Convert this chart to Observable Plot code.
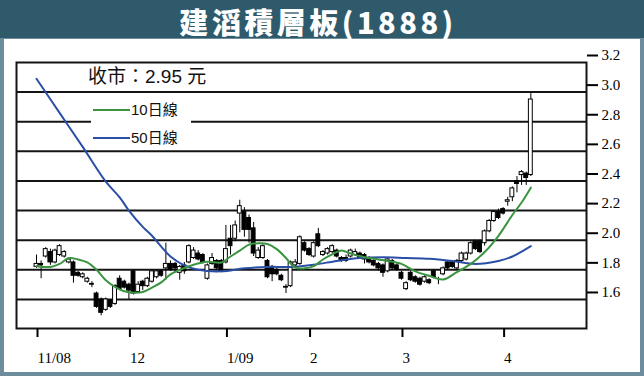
<!DOCTYPE html>
<html>
<head>
<meta charset="utf-8">
<script src="https://cdn.jsdelivr.net/npm/d3@7"></script>
<script src="https://cdn.jsdelivr.net/npm/@observablehq/plot@0.6"></script>
<style>
  html, body { margin: 0; padding: 0; background: #fff; }
  #wrap { position: relative; width: 644px; height: 376px; background: #6d8c9c; overflow: hidden; }
  #title { position: absolute; left: 0; top: 0; width: 644px; height: 38px; background: #2f5a6b; }
  #ttext { position: absolute; left: 0; top: 0; width: 636px; text-align: center; color: #fff;
    font-family: "Noto Sans CJK TC", sans-serif; font-weight: 900; font-size: 29px; line-height: normal;
    letter-spacing: 3.5px; white-space: nowrap; }
  #panel { position: absolute; left: 4px; top: 39px; width: 636px; height: 333px; background: #fff; }
  #chart { position: absolute; left: 0; top: 38px; }
  #close { position: absolute; left: 88px; top: 65px; font-family: "Liberation Sans", "Noto Sans CJK TC", sans-serif;
    font-size: 19px; line-height: 24px; color: #111; white-space: nowrap; }
  #legend { position: absolute; left: 91px; top: 98px; width: 100px; height: 48px; background: #fff; }
  .item { position: absolute; left: 2px; height: 20px; font-family: "Liberation Sans", "Noto Sans CJK TC", sans-serif;
    font-size: 15px; line-height: 20px; color: #111; white-space: nowrap; }
  .item i { display: inline-block; width: 37px; height: 2px; vertical-align: middle; margin-right: 1px; position: relative; top: -1px; }
</style>
</head>
<body>
<div id="wrap">
  <div id="title"></div>
  <div id="ttext">建滔積層板(1888)</div>
  <div id="panel"></div>
  <div id="chart"></div>
  <div id="close">收市：2.95 元</div>
  <div id="legend">
    <div class="item" style="top:2px"><i style="background:#3a9440"></i>10日線</div>
    <div class="item" style="top:30px"><i style="background:#2b4ea6"></i>50日線</div>
  </div>
</div>
<script>
// Daily candles (trading-day index 0 = 3 Nov 2008)
const open = [
1.82,1.84,1.89,1.92,1.85,1.90,1.89,1.85,1.85,1.78,
1.75,1.72,1.705,1.64,1.60,1.53,1.59,1.57,1.74,1.72,
1.70,1.79,1.65,1.72,1.69,1.72,1.75,1.79,1.81,1.84,
1.84,1.78,1.83,1.85,1.88,1.91,1.90,1.74,1.84,1.86,
1.86,1.85,2.01,2.01,2.18,2.19,2.15,2.08,1.88,1.88,
1.86,1.82,1.80,1.76,1.685,1.69,1.83,1.84,1.98,1.94,
1.89,2.04,1.90,1.91,1.92,1.93,1.88,1.88,1.89,1.90,
1.91,1.90,1.88,1.86,1.84,1.83,1.79,1.86,1.83,1.78,
1.67,1.78,1.75,1.74,1.72,1.73,1.79,1.73,1.77,1.85,
1.85,1.81,1.86,1.87,1.91,1.99,1.99,1.98,2.06,2.13,
2.19,2.21,2.26,2.29,2.40,2.44,2.45,2.44];
const close = [
1.84,1.83,1.94,1.85,1.93,1.96,1.92,1.87,1.76,1.76,
1.77,1.74,1.70,1.55,1.51,1.60,1.55,1.69,1.67,1.68,
1.66,1.64,1.70,1.69,1.74,1.79,1.79,1.76,1.84,1.80,
1.81,1.82,1.79,1.96,1.93,1.87,1.85,1.83,1.88,1.81,
1.79,1.94,1.96,2.10,2.23,2.07,2.07,1.91,1.93,1.96,
1.75,1.77,1.77,1.73,1.68,1.85,1.85,2.02,1.93,1.90,
1.98,1.96,1.92,1.94,1.96,1.89,1.86,1.86,1.93,1.92,
1.88,1.87,1.85,1.83,1.81,1.78,1.87,1.81,1.80,1.74,
1.71,1.73,1.72,1.70,1.75,1.71,1.75,1.73,1.81,1.81,
1.82,1.86,1.91,1.91,1.98,1.94,1.92,2.06,2.13,2.19,
2.15,2.18,2.27,2.35,2.38,2.46,2.42,2.95];
const high = [
1.90,1.86,1.95,1.94,1.94,1.97,1.93,1.88,1.86,1.79,
1.78,1.75,1.72,1.65,1.61,1.61,1.60,1.70,1.76,1.73,
1.71,1.80,1.72,1.73,1.75,1.80,1.80,1.80,1.98,1.86,
1.85,1.83,1.85,1.97,1.95,1.93,1.91,1.84,1.91,1.87,
1.87,2.10,2.10,2.13,2.27,2.22,2.17,2.12,1.95,1.97,
1.87,1.83,1.81,1.77,1.70,1.86,1.87,2.03,1.99,1.95,
1.99,2.08,1.93,1.95,1.97,1.94,1.89,1.90,1.94,1.94,
1.92,1.91,1.89,1.87,1.85,1.84,1.88,1.87,1.84,1.79,
1.72,1.79,1.76,1.75,1.76,1.74,1.80,1.75,1.82,1.86,
1.86,1.87,1.92,1.92,1.99,2.00,2.00,2.07,2.14,2.20,
2.21,2.22,2.29,2.36,2.43,2.47,2.46,2.99];
const low = [
1.81,1.74,1.88,1.83,1.84,1.89,1.88,1.84,1.71,1.75,
1.74,1.71,1.68,1.54,1.49,1.52,1.54,1.56,1.66,1.67,
1.60,1.63,1.64,1.66,1.68,1.71,1.74,1.75,1.73,1.79,
1.78,1.73,1.77,1.84,1.87,1.86,1.84,1.73,1.83,1.80,
1.78,1.84,1.90,1.99,2.05,2.02,1.98,1.89,1.87,1.87,
1.74,1.72,1.76,1.72,1.64,1.68,1.82,1.83,1.92,1.89,
1.88,1.95,1.89,1.90,1.91,1.88,1.85,1.85,1.88,1.89,
1.87,1.84,1.84,1.82,1.79,1.75,1.78,1.80,1.79,1.73,
1.66,1.72,1.71,1.69,1.71,1.70,1.74,1.70,1.76,1.80,
1.81,1.80,1.85,1.86,1.90,1.93,1.91,1.96,2.05,2.12,
2.14,2.17,2.23,2.26,2.32,2.37,2.37,2.43];

const ma10Day = [0,3,5,7,9,11,13,15,17,19,21,23,25,27,29,31,34,37,40,42,44,46,48,50,52,54,56,58,60,62,64,66,68,71,74,76,79,82,85,88,91,94,97,100,103,105,107];
const ma10Val = [1.825,1.82,1.84,1.88,1.87,1.85,1.80,1.73,1.685,1.655,1.645,1.65,1.68,1.715,1.77,1.80,1.835,1.855,1.85,1.89,1.93,1.97,1.98,1.975,1.94,1.88,1.815,1.81,1.825,1.87,1.905,1.93,1.91,1.885,1.87,1.86,1.84,1.79,1.76,1.735,1.785,1.84,1.92,2.03,2.17,2.255,2.355];
const ma50Day = [0,5,10,15,18,20,23,25,27,29,32,35,40,45,50,55,60,65,70,75,80,85,90,95,100,103,107];
const ma50Val = [3.09,2.86,2.63,2.395,2.29,2.20,2.09,2.03,1.957,1.89,1.83,1.80,1.79,1.81,1.82,1.82,1.835,1.86,1.88,1.885,1.88,1.875,1.86,1.84,1.86,1.89,1.96];

// Axis ticks
const monthDay = [0,20,41,59,79,101];
const monthLabel = ["11/08","12","1/09","2","3","4"];
const priceTicks = [1.6,1.8,2.0,2.2,2.4,2.6,2.8,3.0,3.2];
const gridLines = [1.6,1.8,2.0,2.2,2.4,2.6,2.8,3.0];

const candles = open.map((o, i) => ({i, o, c: close[i], h: high[i], l: low[i]}));
const ma10 = ma10Day.map((d, k) => ({d, v: ma10Val[k]}));
const ma50 = ma50Day.map((d, k) => ({d, v: ma50Val[k]}));

const chart = Plot.plot({
  width: 644,
  height: 338,
  marginTop: 24,
  marginBottom: 48,
  marginLeft: 16,
  marginRight: 58,
  style: {background: "transparent", color: "#000", fontFamily: "'Liberation Serif', serif", fontSize: "15px"},
  x: {domain: [-4.33, 119.05], axis: null},
  y: {domain: [1.404, 3.2], axis: null},
  color: {type: "identity"},
  marks: [
    Plot.ruleY(gridLines, {stroke: "#141414", strokeWidth: 2}),
    Plot.ruleX(candles, {x: "i", y1: "l", y2: "h", stroke: "#000", strokeWidth: 1}),
    Plot.rect(candles, {
      x1: d => d.i - 0.42, x2: d => d.i + 0.42,
      y1: "o", y2: "c",
      fill: d => d.c >= d.o ? "#ffffff" : "#000000",
      stroke: "#000", strokeWidth: 1
    }),
    Plot.line(ma50, {x: "d", y: "v", stroke: "#2b4ea6", strokeWidth: 2, curve: "catmull-rom"}),
    Plot.line(ma10, {x: "d", y: "v", stroke: "#3a9440", strokeWidth: 2, curve: "catmull-rom"}),
    Plot.frame({stroke: "#141414", strokeWidth: 2}),
    Plot.axisX(monthDay, {
      anchor: "bottom", tickSize: 9, tickPadding: 15, strokeWidth: 2,
      tickFormat: (d, k) => monthLabel[k], textAnchor: "start", dx: 1,
      fontSize: 15, fontFamily: "'Liberation Serif', serif", label: null
    }),
    Plot.axisY(priceTicks, {
      anchor: "right", tickSize: 11, tickPadding: 4, strokeWidth: 2,
      tickFormat: d3.format(".1f"), textAnchor: "start", dy: -7,
      fontSize: 15, fontFamily: "'Liberation Serif', serif", label: null
    })
  ]
});
document.getElementById("chart").appendChild(chart);
</script>
</body>
</html>
